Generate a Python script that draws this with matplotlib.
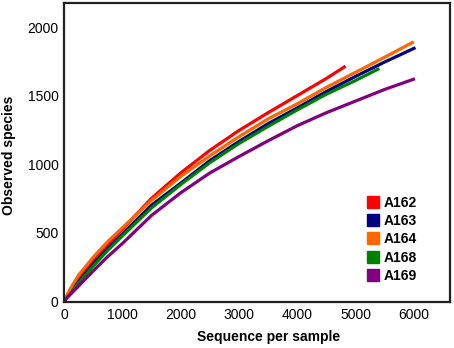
import matplotlib
matplotlib.use('Agg')
import matplotlib.pyplot as plt
from matplotlib.lines import Line2D

plt.rcParams['font.family'] = ['Liberation Sans', 'DejaVu Sans']

# rarefaction curves
samples = ['A162', 'A163', 'A164', 'A168', 'A169']
colors = ['#ff0000', '#000080', '#ff6600', '#008000', '#800080']

x_a162 = [0, 100, 250, 500, 750, 1000, 1500, 2000, 2500, 3000, 3500, 4000, 4500, 4830]
y_a162 = [0, 70, 160, 295, 415, 525, 750, 935, 1100, 1245, 1375, 1500, 1625, 1715]

x_a163 = [0, 100, 250, 500, 750, 1000, 1500, 2000, 2500, 3000, 3500, 4000, 4500, 5000, 5500, 6030]
y_a163 = [0, 55, 140, 270, 385, 490, 700, 860, 1025, 1165, 1295, 1410, 1530, 1640, 1745, 1850]

x_a164 = [0, 100, 250, 500, 750, 1000, 1500, 2000, 2500, 3000, 3500, 4000, 4500, 5000, 5500, 6000]
y_a164 = [0, 85, 190, 320, 435, 535, 735, 910, 1060, 1200, 1330, 1440, 1560, 1670, 1780, 1893]

x_a168 = [0, 100, 250, 500, 750, 1000, 1500, 2000, 2500, 3000, 3500, 4000, 4500, 5000, 5410]
y_a168 = [0, 50, 130, 255, 370, 475, 680, 850, 1010, 1150, 1275, 1395, 1510, 1610, 1698]

x_a169 = [0, 100, 250, 500, 750, 1000, 1500, 2000, 2500, 3000, 3500, 4000, 4500, 5000, 5500, 6020]
y_a169 = [0, 45, 110, 220, 325, 420, 625, 790, 935, 1055, 1170, 1280, 1375, 1460, 1545, 1623]

xs = [x_a162, x_a163, x_a164, x_a168, x_a169]
ys = [y_a162, y_a163, y_a164, y_a168, y_a169]

xticks = [0, 1000, 2000, 3000, 4000, 5000, 6000]
yticks = [0, 500, 1000, 1500, 2000]

fig = plt.figure(figsize=(4.54, 3.48), dpi=100)
ax = fig.add_axes([0.141, 0.132, 0.850, 0.859])

for x, y, c in zip(xs, ys, colors):
    ax.plot(x, y, color=c, lw=2.3, solid_capstyle='butt', solid_joinstyle='round')

ax.set_xlim(0, 6620)
ax.set_ylim(-7, 2175)
ax.set_xticks(xticks)
ax.set_yticks(yticks)
ax.tick_params(length=0, labelsize=10, pad=4)
for s in ax.spines.values():
    s.set_linewidth(1.6)
    s.set_color('#222222')

ax.set_xlabel('Sequence per sample', fontsize=10, fontweight='bold')
ax.xaxis.set_label_coords(0.53, -0.095)
ax.set_ylabel('Observed species', fontsize=10, fontweight='bold')
ax.yaxis.set_label_coords(-0.124, 0.49)

handles = [Line2D([], [], ls='none', marker='s', markersize=8, color=c) for c in colors]
ax.legend(handles, samples, loc='lower right', bbox_to_anchor=(0.948, 0.023),
          frameon=False, prop={'weight': 'bold', 'size': 10},
          handletextpad=0.3, labelspacing=0.3, handlelength=1.0)

fig.savefig('out.png', dpi=100)
